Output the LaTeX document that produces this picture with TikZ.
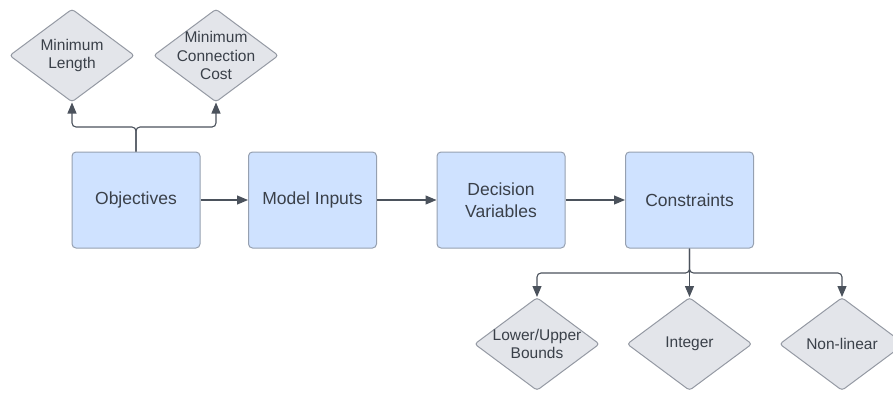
\documentclass[tikz,border=0pt]{standalone}
\usepackage{fontspec}
\setmainfont{Liberation Sans}
\usetikzlibrary{shapes.geometric,arrows.meta}
\definecolor{boxfill}{RGB}{207,226,255}
\definecolor{boxline}{RGB}{150,160,176}
\definecolor{dfill}{RGB}{227,229,234}
\definecolor{dline}{RGB}{148,153,163}
\definecolor{conn}{RGB}{75,82,92}
\definecolor{txt}{RGB}{58,64,73}
\tikzset{
  stepbox/.style={draw=boxline, fill=boxfill, line width=1pt, rounded corners=4pt,
    minimum width=128pt, minimum height=96pt, inner sep=2pt, align=center,
    text=txt, font=\fontsize{17.5}{21.5}\selectfont},
  choice/.style={diamond, draw=dline, fill=dfill, line width=1pt, rounded corners=3pt,
    minimum width=125pt, minimum height=93pt, inner sep=0pt, aspect=1.34},
  choicetext/.style={align=center, text=txt, font=\fontsize{15.5}{18.5}\selectfont},
  arr/.style={draw=conn, line width=1.1pt, -{Triangle[length=11pt,width=9pt]}, rounded corners=4pt},
}
\begin{document}
\begin{tikzpicture}[x=1pt,y=-1pt]
\useasboundingbox (0,0) rectangle (893,392);
\node[stepbox] (obj) at (136,200) {Objectives};
\node[stepbox] (inp) at (312.5,200) {Model Inputs};
\node[stepbox] (dec) at (501,200) {Decision\\Variables};
\node[stepbox] (con) at (689.5,200) {Constraints};
\node[choice, label={[choicetext]center:Minimum\\Length}] (t1) at (72,55.5) {};
\node[choice, label={[choicetext]center:Minimum\\Connection\\Cost}] (t2) at (216,55.5) {};
\node[choice, label={[choicetext]center:Lower/Upper\\Bounds}] (b1) at (537,344) {};
\node[choice, label={[choicetext]center:Integer}] (b2) at (689.5,344) {};
\node[choice, label={[choicetext]center:Non-linear}] (b3) at (842,344) {};
\coordinate (jt) at (136,127);
\coordinate (jb) at (689.5,273);
\draw[arr] (obj) -- (inp);
\draw[arr] (inp) -- (dec);
\draw[arr] (dec) -- (con);
\draw[arr] (obj.north) -- (jt) -| (t1.south);
\draw[arr] (obj.north) -- (jt) -| (t2.south);
\draw[arr] (con.south) -- (jb) -| (b1.north);
\draw[arr] (con.south) -- (b2.north);
\draw[arr] (con.south) -- (jb) -| (b3.north);
\end{tikzpicture}
\end{document}
